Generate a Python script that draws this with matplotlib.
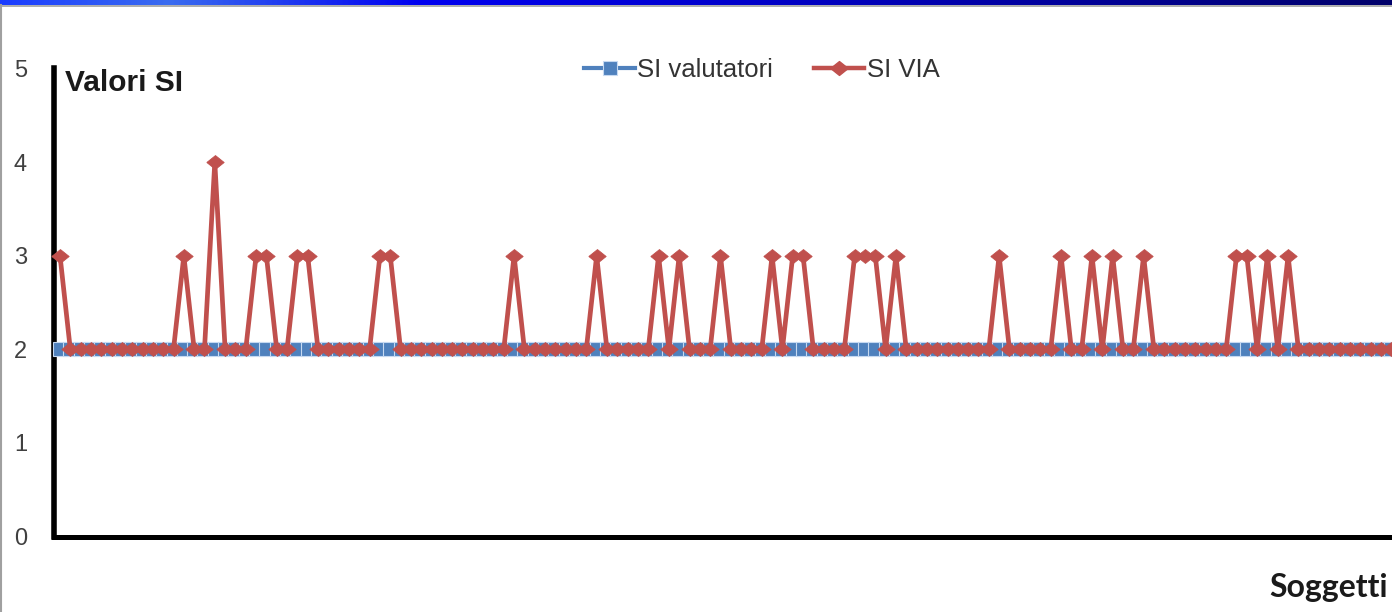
import numpy as np
import matplotlib
matplotlib.use("Agg")
import matplotlib.pyplot as plt
from matplotlib.colors import LinearSegmentedColormap
from matplotlib.lines import Line2D

# ---- data ----
n_subjects = 130
si_valutatori = [2] * n_subjects
si_via = [2] * n_subjects
peaks_3 = [0, 12, 19, 20, 23, 24, 31, 32, 44, 52, 58, 60, 64, 69, 71, 72, 77, 78, 79,
           81, 91, 97, 100, 102, 105, 114, 115, 117, 119]
peaks_4 = [15]
for i in peaks_3:
    si_via[i] = 3
for i in peaks_4:
    si_via[i] = 4
subjects = list(range(n_subjects))
y_ticks = [0, 1, 2, 3, 4, 5]
series_names = ["SI valutatori", "SI VIA"]

BLUE = "#4F81BD"
RED = "#C0504D"

W, H = 1392, 612
fig = plt.figure(figsize=(W / 100, H / 100), dpi=100)
fig.patch.set_facecolor("white")

# axes geometry in pixels
ax_left, ax_right = 53.5, 1392
ax_top, ax_bottom = 68.5, 536.5
ax = fig.add_axes([ax_left / W, 1 - ax_bottom / H,
                   (ax_right - ax_left) / W, (ax_bottom - ax_top) / H])
ax.set_facecolor("none")

spacing = 10.32
x0 = -(60 - ax_left) / spacing
x1 = x0 + (ax_right - ax_left) / spacing
ax.set_xlim(x0, x1)
ax.set_ylim(0, 5)

ax.plot(subjects, si_valutatori, color=BLUE, lw=3, marker="s", markersize=10,
        markerfacecolor=BLUE, markeredgecolor="#C6D9F1", markeredgewidth=0.8,
        zorder=3, clip_on=False)
diamond = [(-1, 0), (0, 0.8), (1, 0), (0, -0.8), (-1, 0)]
ax.plot(subjects, si_via, color=RED, lw=3.4, marker=diamond, markersize=12.5,
        markerfacecolor=RED, markeredgecolor=RED, markeredgewidth=0.6,
        zorder=4, clip_on=False)

for s in ["top", "right"]:
    ax.spines[s].set_visible(False)
ax.spines["left"].set_linewidth(4.0)
ax.spines["bottom"].set_linewidth(3.6)
ax.spines["left"].set_color("black")
ax.spines["bottom"].set_color("black")
ax.set_xticks([])
ax.set_yticks(y_ticks)
ax.set_yticklabels([str(v) for v in y_ticks], fontfamily="Liberation Sans",
                   fontsize=17, color="#404040")
ax.tick_params(axis="y", length=0, pad=19)

# axis titles
fig.text(65 / W, 1 - 83 / H, "Valori SI", fontfamily="Liberation Sans",
         fontweight="bold", fontsize=21.5, color="#1a1a1a", va="center", ha="left")
fig.text(1388 / W, 1 - 588 / H, "Soggetti", fontfamily="Lato",
         fontweight="bold", fontsize=23, color="#1a1a1a", va="center", ha="right")

# legend
handles = [
    Line2D([], [], color=BLUE, lw=3, marker="s", markersize=10,
           markerfacecolor=BLUE, markeredgecolor="#C6D9F1", markeredgewidth=0.8),
    Line2D([], [], color=RED, lw=3.2, marker=diamond, markersize=12.5,
           markerfacecolor=RED, markeredgecolor=RED),
]
fig.legend(handles, series_names, loc="center", bbox_to_anchor=(762 / W, 1 - 70 / H),
           ncol=2, frameon=False, handlelength=1.95, handletextpad=0.1,
           columnspacing=1.6, prop={"family": "Liberation Sans", "size": 18.5},
           labelcolor="#333333")

# top decorative bar
bar_ax = fig.add_axes([0, 1 - 5 / H, 1, 5 / H])
bar_ax.set_axis_off()
cmap = LinearSegmentedColormap.from_list(
    "bar", [(0.0, "#1a3cff"), (0.12, "#3a6cf0"), (0.3, "#0000f0"),
            (0.55, "#0000c8"), (1.0, "#00006a")])
grad = np.linspace(0, 1, 512).reshape(1, -1)
bar_ax.imshow(grad, aspect="auto", cmap=cmap, extent=[0, 1, 0, 1])
fig.add_artist(Line2D([0, 1], [1 - 5.5 / H, 1 - 5.5 / H], transform=fig.transFigure,
                      color="#a0a0a0", lw=1.2))
fig.add_artist(Line2D([1 / W, 1 / W], [0, 1 - 5 / H], transform=fig.transFigure,
                      color="#a0a0a0", lw=1.5))

fig.savefig("out.png", dpi=100, facecolor="white")
